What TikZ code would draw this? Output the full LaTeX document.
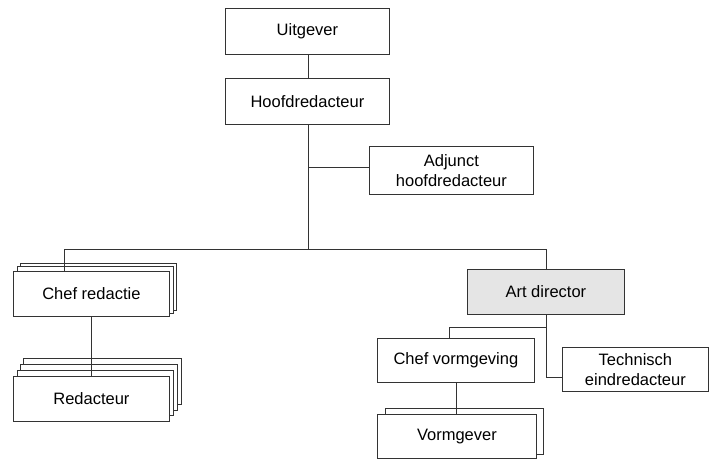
\documentclass[tikz,border=0pt]{standalone}
\usepackage{fontspec}
\setmainfont{Liberation Sans}
\begin{document}
\begin{tikzpicture}[x=1pt,y=-1pt,
  line width=0.8pt,
  conn/.style={draw=black!80},
  box/.style={draw=black!80, fill=white, font=\fontsize{16.5}{19.5}\selectfont, align=center, inner sep=0pt},
]
\useasboundingbox (0,0) rectangle (710,461);
% Top boxes
\node[box, minimum width=164, minimum height=46, anchor=north west] (uit) at (225,8) {Uitgever};
\node[box, minimum width=164, minimum height=46, anchor=north west] (hoofd) at (225,78) {Hoofdredacteur};
\node[box, minimum width=164, minimum height=48, anchor=north west] (adj) at (369,146) {Adjunct\\hoofdredacteur};
% coordinates
\coordinate (bus) at (308,249);
\coordinate (busL) at (64,249);
\coordinate (busR) at (546,249);
\coordinate (adjj) at (308,167);
% Chef redactie stack
\node[box, minimum width=156, minimum height=47, anchor=north west] (cr3) at (20,263) {};
\node[box, minimum width=156, minimum height=47, anchor=north west] (cr2) at (17,266) {};
\node[box, minimum width=156, minimum height=45, anchor=north west] (cr) at (13,271) {Chef redactie};
% Redacteur stack
\node[box, minimum width=158, minimum height=46, anchor=north west] (rd4) at (23,358) {};
\node[box, minimum width=157, minimum height=46, anchor=north west] (rd3) at (20,364) {};
\node[box, minimum width=156, minimum height=45, anchor=north west] (rd2) at (17,370) {};
\node[box, minimum width=156, minimum height=45, anchor=north west] (rd) at (13,376) {Redacteur};
% Art director
\node[box, fill=black!10, minimum width=157, minimum height=45, anchor=north west] (art) at (467,269) {Art director};
% Chef vormgeving
\node[box, minimum width=157, minimum height=44, anchor=north west] (cv) at (377,338) {Chef vormgeving};
% Technisch
\node[box, minimum width=146, minimum height=44, anchor=north west] (tech) at (562,347) {Technisch\\eindredacteur};
% Vormgever stack
\node[box, minimum width=158, minimum height=46, anchor=north west] (vg2) at (385,408) {};
\node[box, minimum width=159, minimum height=44, anchor=north west] (vg) at (377,414) {Vormgever};
% connectors
\draw[conn] (uit.south -| bus) -- (hoofd.north -| bus);
\draw[conn] (hoofd.south -| bus) -- (bus);
\draw[conn] (adjj) -- (adjj -| adj.west);
\draw[conn] (busL) -- (busR);
\draw[conn] (busL) -- (busL |- cr.north);
\draw[conn] (busR) -- (busR |- art.north);
\coordinate (crx) at (91,0);
\draw[conn] (cr.south -| crx) -- (rd.north -| crx);
\coordinate (tj) at (546,377);
\coordinate (cvj) at (546,327);
\coordinate (cvk) at (449,327);
\draw[conn] (art.south -| tj) -- (tj) -- (tj -| tech.west);
\draw[conn] (cvj) -- (cvk) -- (cvk |- cv.north);
\coordinate (vgx) at (456,0);
\draw[conn] (cv.south -| vgx) -- (vg.north -| vgx);
\end{tikzpicture}
\end{document}
